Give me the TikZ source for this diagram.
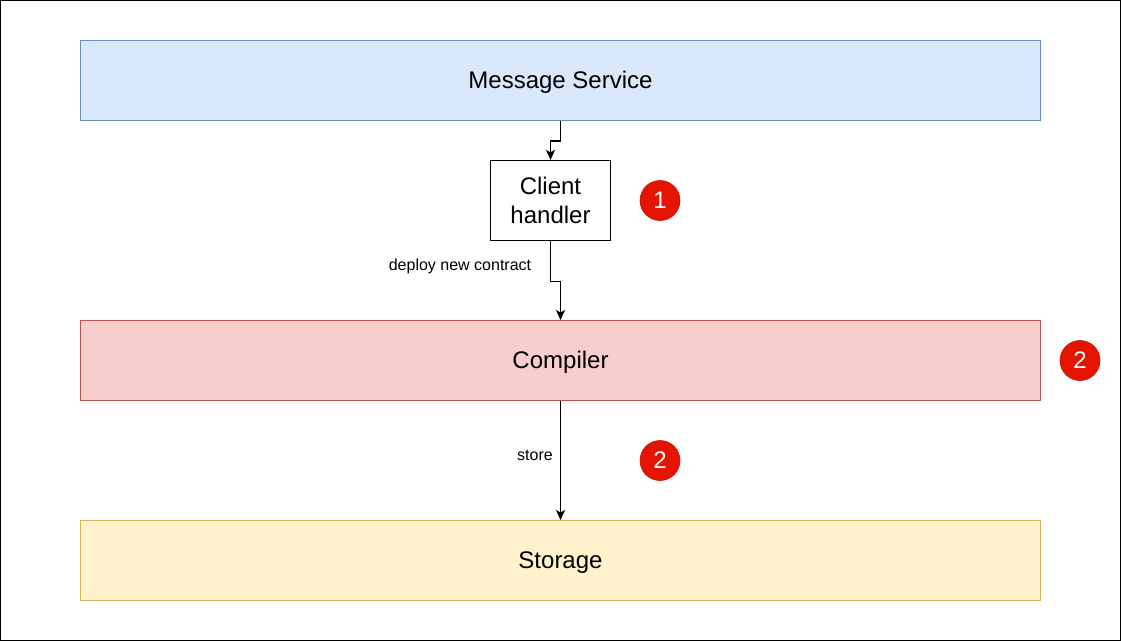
\documentclass[tikz,border=0pt]{standalone}
\usepackage{fontspec}
\setmainfont{Liberation Sans}
\usetikzlibrary{arrows.meta}
\definecolor{blueF}{HTML}{DAE8FC}\definecolor{blueS}{HTML}{6C8EBF}
\definecolor{redF}{HTML}{F8CECC}\definecolor{redS}{HTML}{B85450}
\definecolor{yelF}{HTML}{FFF2CC}\definecolor{yelS}{HTML}{D6B656}
\definecolor{badge}{HTML}{E51400}
\tikzset{
  layer/.style={draw,line width=1pt,minimum width=960pt,minimum height=80pt,inner sep=0pt,text height=18pt,text depth=2pt,font=\fontsize{24}{28}\selectfont},
  handlerbox/.style={draw=black,line width=1.2pt,fill=white,minimum width=120pt,minimum height=80pt,inner sep=0pt,align=center,font=\fontsize{24}{29}\selectfont},
  badgeitem/.style={circle,draw=badge!85!black,line width=.6pt,fill=badge,text=white,minimum size=40pt,inner sep=0pt,font=\fontsize{24}{28}\selectfont},
  link/.style={draw=black,line width=1.2pt,-{Stealth[length=10pt,width=9pt,inset=2.5pt]}},
  linklabel/.style={inner sep=0pt,font=\fontsize{16}{19}\selectfont}
}
\begin{document}
\begin{tikzpicture}[x=1pt,y=-1pt]
\useasboundingbox (0,0) rectangle (1121,641);
\draw[black,line width=1.2pt] (0.6,0.6) rectangle (1120.4,640.4);
\node[layer,draw=blueS,fill=blueF] (ms) at (560.5,80.5) {Message Service};
\node[handlerbox] (ch) at (550.5,200.5) {Client\\handler};
\node[layer,draw=redS,fill=redF] (comp) at (560.5,360.5) {Compiler};
\node[layer,draw=yelS,fill=yelF] (st) at (560.5,560.5) {Storage};
\node[badgeitem] (b1) at (660,200.5) {1};
\node[badgeitem] (b2) at (1080,360.5) {2};
\node[badgeitem] (b3) at (660,460.5) {2};
\node[linklabel] (l1) at (460,266.5) {deploy new contract};
\node[linklabel] (l2) at (535,455) {store};
\draw[link] (ms.south) -- ++(0,20) -| (ch.north);
\draw[link] (ch.south) -- ++(0,40) -| (comp.north);
\draw[link] (comp.south) -- (st.north);
\end{tikzpicture}
\end{document}
